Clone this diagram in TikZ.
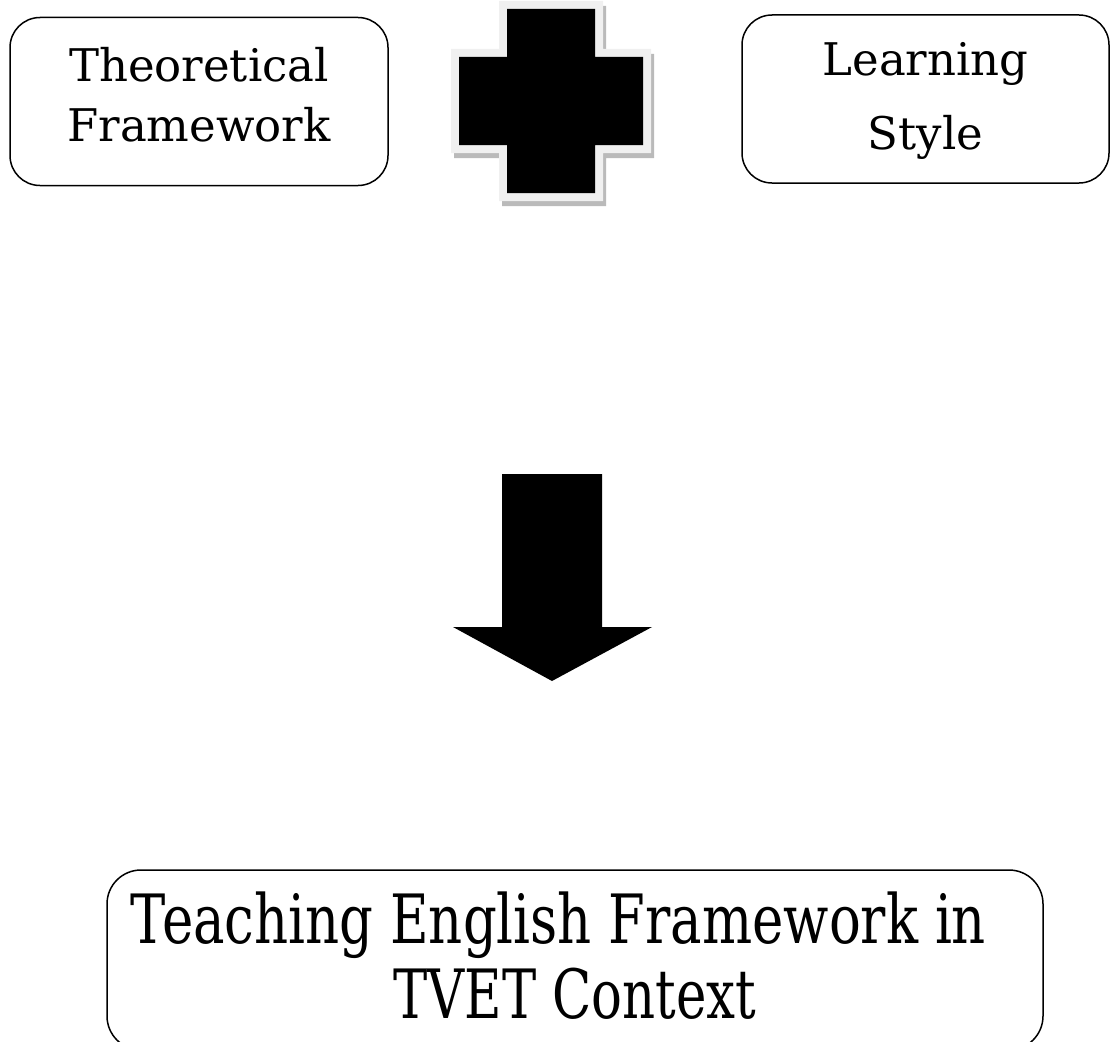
\documentclass[tikz,border=0pt]{standalone}
\usepackage{fontspec}
\usepackage{graphicx}
\setmainfont{DejaVu Serif}
\begin{document}
\begin{tikzpicture}[x=1pt,y=-1pt,
  roundbox/.style={draw=black, line width=1.5pt, rounded corners=30pt, align=center, inner sep=0pt},
  smalltext/.style={font=\fontsize{45}{60}\selectfont},
  bigtext/.style={font=\fontsize{68}{75}\selectfont},
  crossmark/.pic={
    \fill[#1] (-\ca,-\cb) -- (\ca,-\cb) -- (\ca,-\ca) -- (\cb,-\ca) -- (\cb,\ca) -- (\ca,\ca) -- (\ca,\cb) -- (-\ca,\cb) -- (-\ca,\ca) -- (-\cb,\ca) -- (-\cb,-\ca) -- (-\ca,-\ca) -- cycle;
  }]
\useasboundingbox (0,0) rectangle (1110,1041);
\clip (0,0) rectangle (1110,1041);
\node[roundbox, smalltext, minimum width=378pt, minimum height=168pt, text depth=14pt] (tf) at (199,101.5) {Theoretical\\Framework};
\node[roundbox, smalltext, minimum width=367pt, minimum height=168pt, text depth=7pt] (ls) at (925.5,99) {Learning\\[14pt]Style};
% plus sign
\def\ca{52}\def\cb{100}
\pic at (554,106) {crossmark={fill=black!27}};
\pic at (551,101) {crossmark={fill=black!6}};
\def\ca{44}\def\cb{92}
\pic at (551,101) {crossmark={fill=black}};
% block arrow
\fill[black] (502,474) -- (602,474) -- (602,627) -- (652,627) -- (552,681) -- (453,627) -- (502,627) -- cycle;
\node[roundbox, bigtext, minimum width=936pt, minimum height=180pt, rounded corners=34pt, text depth=10pt] (te) at (575,960) {\scalebox{0.778}[1]{Teaching English Framework in}\hspace*{33pt}\\\scalebox{0.755}[1]{TVET Context}};
\end{tikzpicture}
\end{document}
